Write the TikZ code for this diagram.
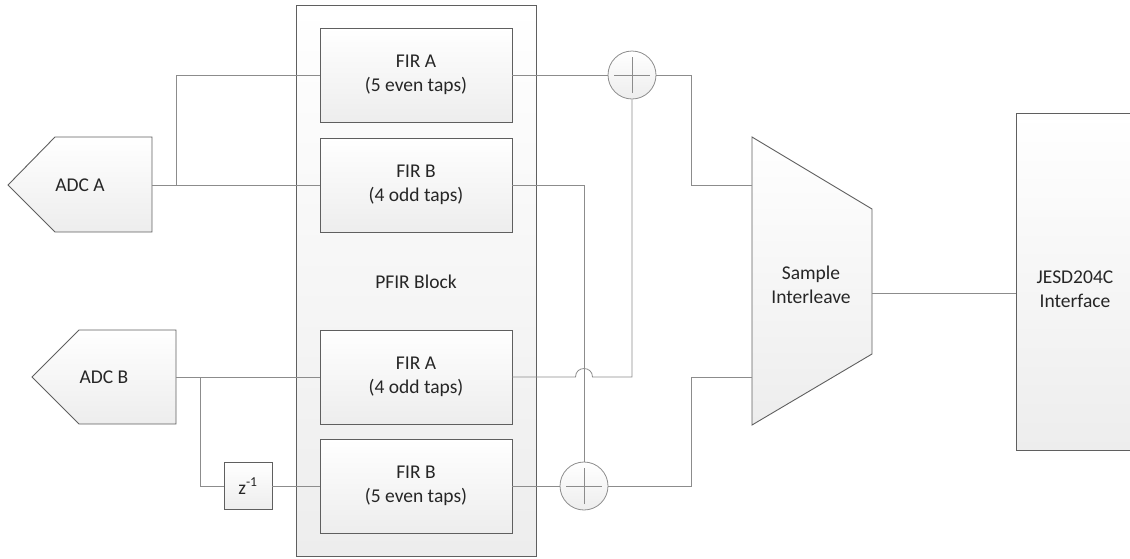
\documentclass[tikz,border=0pt]{standalone}
\usepackage{fontspec}
\setmainfont{Carlito}
\definecolor{wire}{HTML}{8C8C8C}
\definecolor{edge}{HTML}{5F5F5F}
\definecolor{fillbot}{HTML}{EDEDED}
\definecolor{txt}{HTML}{262626}
\begin{document}
\begin{tikzpicture}[x=1pt,y=-1pt,
  font=\fontsize{19.5}{24}\selectfont,
  blockfill/.style={top color=white,bottom color=fillbot,shading angle=0},
  blk/.style={draw=edge,line width=0.9pt,blockfill},
  firbox/.style={blk,rectangle,minimum width=192pt,minimum height=94pt,inner sep=0pt,align=center,text=txt},
  sumnode/.style={circle,draw=wire,line width=0.8pt,blockfill,minimum size=48pt,inner sep=0pt,
    path picture={\draw[wire,line width=0.8pt] ([xshift=-18pt]path picture bounding box.center) -- ([xshift=18pt]path picture bounding box.center)
      ([yshift=-18pt]path picture bounding box.center) -- ([yshift=18pt]path picture bounding box.center);}},
  wireline/.style={draw=wire,line width=0.8pt},
  lbl/.style={align=center,text=txt,inner sep=0pt}
]
\useasboundingbox (0,0) rectangle (1130,558);
\clip (0,0) rectangle (1130,558);

% PFIR block
\draw[blk] (296,5) rectangle (536,556);
\node[lbl] (pfir) at (416,282) {PFIR Block};

% FIR boxes
\node[firbox] (firA1) at (416,75) {FIR A\\(5 even taps)};
\node[firbox] (firB1) at (416,185) {FIR B\\(4 odd taps)};
\node[firbox] (firA2) at (416,377) {FIR A\\(4 odd taps)};
\node[firbox] (firB2) at (416,486) {FIR B\\(5 even taps)};

% ADC A
\draw[blk] (8,185) -- (55,137) -- (152,137) -- (152,232) -- (55,232) -- cycle;
\node[lbl] (adcA) at (80,185) {ADC A};
\coordinate (adcAout) at (152,185);
% ADC B
\draw[blk] (32,377) -- (79,330) -- (176,330) -- (176,424) -- (79,424) -- cycle;
\node[lbl] (adcB) at (104,377) {ADC B};
\coordinate (adcBout) at (176,377);

% z^-1
\node[blk,rectangle,minimum width=48pt,minimum height=47pt,inner sep=0pt,text=txt] (zinv) at (248,486) {z\textsuperscript{-1}};

% summing junctions
\node[sumnode] (sum1) at (632,75) {};
\node[sumnode] (sum2) at (584,486) {};

% mux
\draw[blk] (752,137) -- (872,209) -- (872,354) -- (752,425) -- cycle;
\node[lbl] (mux) at (811,285) {Sample\\Interleave};
\coordinate (muxIn1) at (752,185);
\coordinate (muxIn2) at (752,377);
\coordinate (muxOut) at (872,293);

% JESD
\node[blk,rectangle,minimum width=118pt,minimum height=337pt,inner sep=0pt,anchor=north west,align=center,text=txt] (jesd) at (1016,113) {};
\node[lbl] (jesdtxt) at (1075,289) {JESD204C\\Interface};

% junction coordinates
\coordinate (jA) at (176,185);
\coordinate (jB) at (200,377);
\coordinate (bend1) at (691,75);
\coordinate (bend2) at (691,377);
\coordinate (cross) at (584,185);
\coordinate (hopL) at (575.5,377);
\coordinate (hopR) at (592.5,377);
\coordinate (join1) at (632,377);

% wires
\draw[wireline] (adcAout) -- (firB1.west);
\draw[wireline] (jA) |- (firA1.west);
\draw[wireline] (adcBout) -- (firA2.west);
\draw[wireline] (jB) |- (zinv.west);
\draw[wireline] (zinv.east) -- (firB2.west);
\draw[wireline] (firA1.east) -- (sum1.west);
\draw[wireline] (sum1.east) -- (bend1) |- (muxIn1);
\draw[wireline] (firB1.east) -- (cross) -- (sum2.north);
\draw[wireline] (firA2.east) -- (hopL) .. controls (575.5,365.7) and (592.5,365.7) .. (hopR) -- (join1) -- (sum1.south);
\draw[wireline] (firB2.east) -- (sum2.west);
\draw[wireline] (sum2.east) -| (bend2) -- (muxIn2);
\draw[wireline] (muxOut) -- (muxOut -| jesd.west);
\end{tikzpicture}
\end{document}
